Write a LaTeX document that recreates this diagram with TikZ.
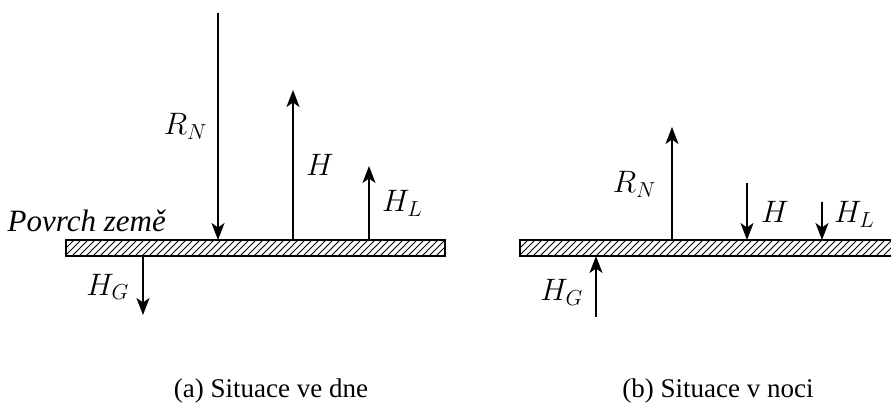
\RequirePackage{fix-cm}
\documentclass[tikz,border=0pt]{standalone}
\usepackage[no-math]{fontspec}
\setmainfont{Liberation Serif}
\usetikzlibrary{arrows.meta}
\tikzset{
  vec/.style={-{Stealth[length=17pt, width=13pt, inset=4.5pt]}, line width=2pt},
  ground/.style={draw, line width=1.3pt},
  hatch/.style={line width=0.8pt},
  lbl/.style={font=\fontsize{31}{36}\selectfont, inner sep=0pt},
  caption/.style={font=\fontsize{27}{32}\selectfont, inner sep=0pt},
}

\begin{document}
\begin{tikzpicture}[x=1pt, y=-1pt]
  \useasboundingbox (0,0) rectangle (891,403);
  % ground, day
  \coordinate (gA1) at (66,240);
  \coordinate (gA2) at (445,256);
  \begin{scope}
    \clip (gA1) rectangle (gA2);
    \foreach \x in {44,51,...,450} \draw[hatch] (\x,256) -- ++(16,-16);
  \end{scope}
  \draw[ground] (gA1) rectangle (gA2);
  % ground, night
  \coordinate (gB1) at (520,240);
  \coordinate (gB2) at (893,256);
  \begin{scope}
    \clip (gB1) rectangle (gB2);
    \foreach \x in {498,505,...,900} \draw[hatch] (\x,256) -- ++(16,-16);
  \end{scope}
  \draw[ground] (gB1) rectangle (gB2);
  \node[lbl, anchor=base east, font=\fontsize{31}{36}\selectfont\itshape] (surf) at (166,232) {Povrch země};

  % (a) day
  \coordinate (rnA0) at (218,13);   \coordinate (rnA1) at (218,240);
  \coordinate (hA0) at (293,240);   \coordinate (hA1) at (293,90);
  \coordinate (hlA0) at (369,240);  \coordinate (hlA1) at (369,166);
  \coordinate (hgA0) at (143,256);  \coordinate (hgA1) at (143,315);
  \draw[vec] (rnA0) -- (rnA1);
  \draw[vec] (hA0) -- (hA1);
  \draw[vec] (hlA0) -- (hlA1);
  \draw[vec] (hgA0) -- (hgA1);
  \node[lbl, anchor=base east] (rnA) at (207,135) {$R_N$};
  \node[lbl, anchor=base west] (hA) at (306,176) {$H$};
  \node[lbl, anchor=base west] (hlA) at (382,212) {$H_L$};
  \node[lbl, anchor=base east] (hgA) at (129,295) {$H_G$};

  % (b) night
  \coordinate (rnB0) at (672,240);  \coordinate (rnB1) at (672,127);
  \coordinate (hB0) at (747,183);   \coordinate (hB1) at (747,240);
  \coordinate (hlB0) at (822,202);  \coordinate (hlB1) at (822,240);
  \coordinate (hgB0) at (596,317);  \coordinate (hgB1) at (596,256);
  \draw[vec] (rnB0) -- (rnB1);
  \draw[vec] (hB0) -- (hB1);
  \draw[vec] (hlB0) -- (hlB1);
  \draw[vec] (hgB0) -- (hgB1);
  \node[lbl, anchor=base east] (rnB) at (656,193) {$R_N$};
  \node[lbl, anchor=base west] (hB) at (761,223) {$H$};
  \node[lbl, anchor=base west] (hlB) at (834,223) {$H_L$};
  \node[lbl, anchor=base east] (hgB) at (583,301) {$H_G$};

  % captions
  \node[caption, anchor=base] (capA) at (271,397) {(a) Situace ve dne};
  \node[caption, anchor=base] (capB) at (718,397) {(b) Situace v noci};
\end{tikzpicture}
\end{document}
